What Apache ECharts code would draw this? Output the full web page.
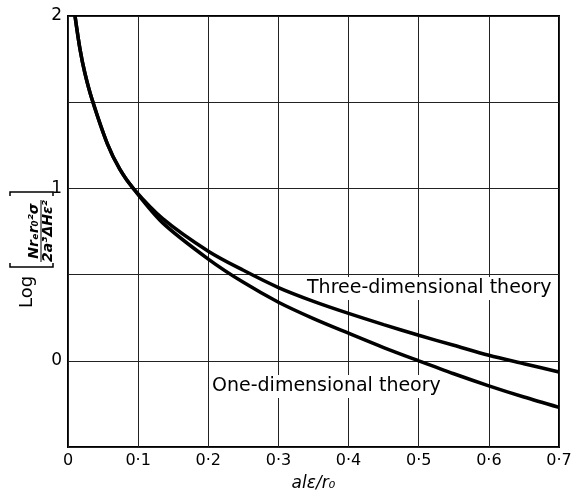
<!DOCTYPE html>
<html>
<head>
<meta charset="utf-8">
<script src="https://cdn.jsdelivr.net/npm/echarts@6/dist/echarts.min.js"></script>
<style>
  html, body { margin: 0; padding: 0; background: #fff; }
  #chart { width: 576px; height: 497px; }
</style>
</head>
<body>
<div id="chart"></div>
<script>
// values
var xTicks = [0, 0.1, 0.2, 0.3, 0.4, 0.5, 0.6, 0.7];
var yTicks = [0, 1, 2];

var oneDimX = [0.010, 0.017, 0.024, 0.034, 0.056, 0.074, 0.093, 0.135, 0.200, 0.250, 0.300, 0.350, 0.400, 0.450, 0.500, 0.550, 0.600, 0.650, 0.700];
var oneDimY = [2.00, 1.81, 1.67, 1.52, 1.26, 1.11, 1.00, 0.80, 0.59, 0.455, 0.34, 0.245, 0.16, 0.077, 0.0, -0.075, -0.145, -0.21, -0.27];

var threeDimX = [0.010, 0.017, 0.024, 0.034, 0.056, 0.074, 0.093, 0.135, 0.200, 0.250, 0.300, 0.350, 0.400, 0.450, 0.500, 0.550, 0.600, 0.650, 0.700];
var threeDimY = [2.00, 1.81, 1.67, 1.52, 1.26, 1.11, 1.00, 0.825, 0.636, 0.525, 0.425, 0.345, 0.275, 0.21, 0.148, 0.09, 0.032, -0.017, -0.065];

function pairs(xs, ys) {
  return xs.map(function (x, i) { return [x, ys[i]]; });
}

var myChart = echarts.init(document.getElementById('chart'));
var font = 'DejaVu Sans';

var option = {
  backgroundColor: '#fff',
  animation: false,
  grid: {
    left: 68, top: 16, right: 17, bottom: 43,
    show: true, borderColor: '#000', borderWidth: 2
  },
  xAxis: {
    type: 'value',
    min: 0, max: 0.7, interval: 0.1,
    name: 'alε/r₀',
    nameLocation: 'middle',
    nameGap: 28,
    nameTextStyle: { color: '#000', fontFamily: font, fontStyle: 'italic', fontSize: 17 },
    axisLine: { show: false },
    axisTick: { show: false },
    axisLabel: {
      color: '#000', fontFamily: font, fontSize: 16, margin: 6,
      formatter: function (v) {
        if (xTicks.indexOf(Math.round(v * 10) / 10) < 0) return '';
        return v === 0 ? '0' : v.toFixed(1).replace('.', '·');
      }
    },
    splitLine: { lineStyle: { color: '#222', width: 1 } }
  },
  yAxis: {
    type: 'value',
    min: -0.5, max: 2, interval: 0.5,
    axisLine: { show: false },
    axisTick: { show: false },
    axisLabel: {
      color: '#000', fontFamily: font, fontSize: 17, margin: 6,
      formatter: function (v) {
        return yTicks.indexOf(v) >= 0 ? String(v) : '';
      }
    },
    splitLine: { lineStyle: { color: '#222', width: 1 } }
  },
  graphic: [
    {
      type: 'text', z: 1, left: 305, top: 277,
      style: {
        text: 'Three-dimensional theory', fill: '#000', font: '19px "DejaVu Sans"',
        backgroundColor: '#fff', padding: [2, 2, 2, 2]
      }
    },
    {
      type: 'text', z: 1, left: 210, top: 375,
      style: {
        text: 'One-dimensional theory', fill: '#000', font: '19px "DejaVu Sans"',
        backgroundColor: '#fff', padding: [2, 2, 2, 2]
      }
    },
    {
      // rotated y-axis label: Log [ fraction ]
      type: 'group', position: [31, 248], rotation: Math.PI / 2,
      children: [
        { type: 'text', x: -44, y: -4,
          style: { text: 'Log', fill: '#000', font: '18px "DejaVu Sans"',
            align: 'center', verticalAlign: 'middle' } },
        { type: 'polyline', shape: { points: [[-15, -21], [-19, -21], [-19, 22], [-15, 22]] },
          style: { stroke: '#000', lineWidth: 1.5, fill: null } },
        { type: 'polyline', shape: { points: [[52, -21], [56, -21], [56, 22], [52, 22]] },
          style: { stroke: '#000', lineWidth: 1.5, fill: null } },
        { type: 'text', x: 17, y: 3,
          style: { text: 'Nrₑr₀²σ', fill: '#000', font: 'italic bold 14px "DejaVu Sans"',
            align: 'center', verticalAlign: 'middle' } },
        { type: 'line', shape: { x1: -14, y1: 10, x2: 48, y2: 10 },
          style: { stroke: '#000', lineWidth: 1 } },
        { type: 'text', x: 17, y: 17,
          style: { text: '2a³ΔHε²', fill: '#000', font: 'italic bold 14px "DejaVu Sans"',
            align: 'center', verticalAlign: 'middle' } }
      ]
    }
  ],
  series: [
    {
      name: 'One-dimensional theory', type: 'line', z: 3,
      smooth: 0.3, showSymbol: false, symbol: 'none',
      lineStyle: { color: '#000', width: 3.5 },
      data: pairs(oneDimX, oneDimY)
    },
    {
      name: 'Three-dimensional theory', type: 'line', z: 3,
      smooth: 0.3, showSymbol: false, symbol: 'none',
      lineStyle: { color: '#000', width: 3.5 },
      data: pairs(threeDimX, threeDimY)
    }
  ]
};

myChart.setOption(option);
</script>
</body>
</html>
